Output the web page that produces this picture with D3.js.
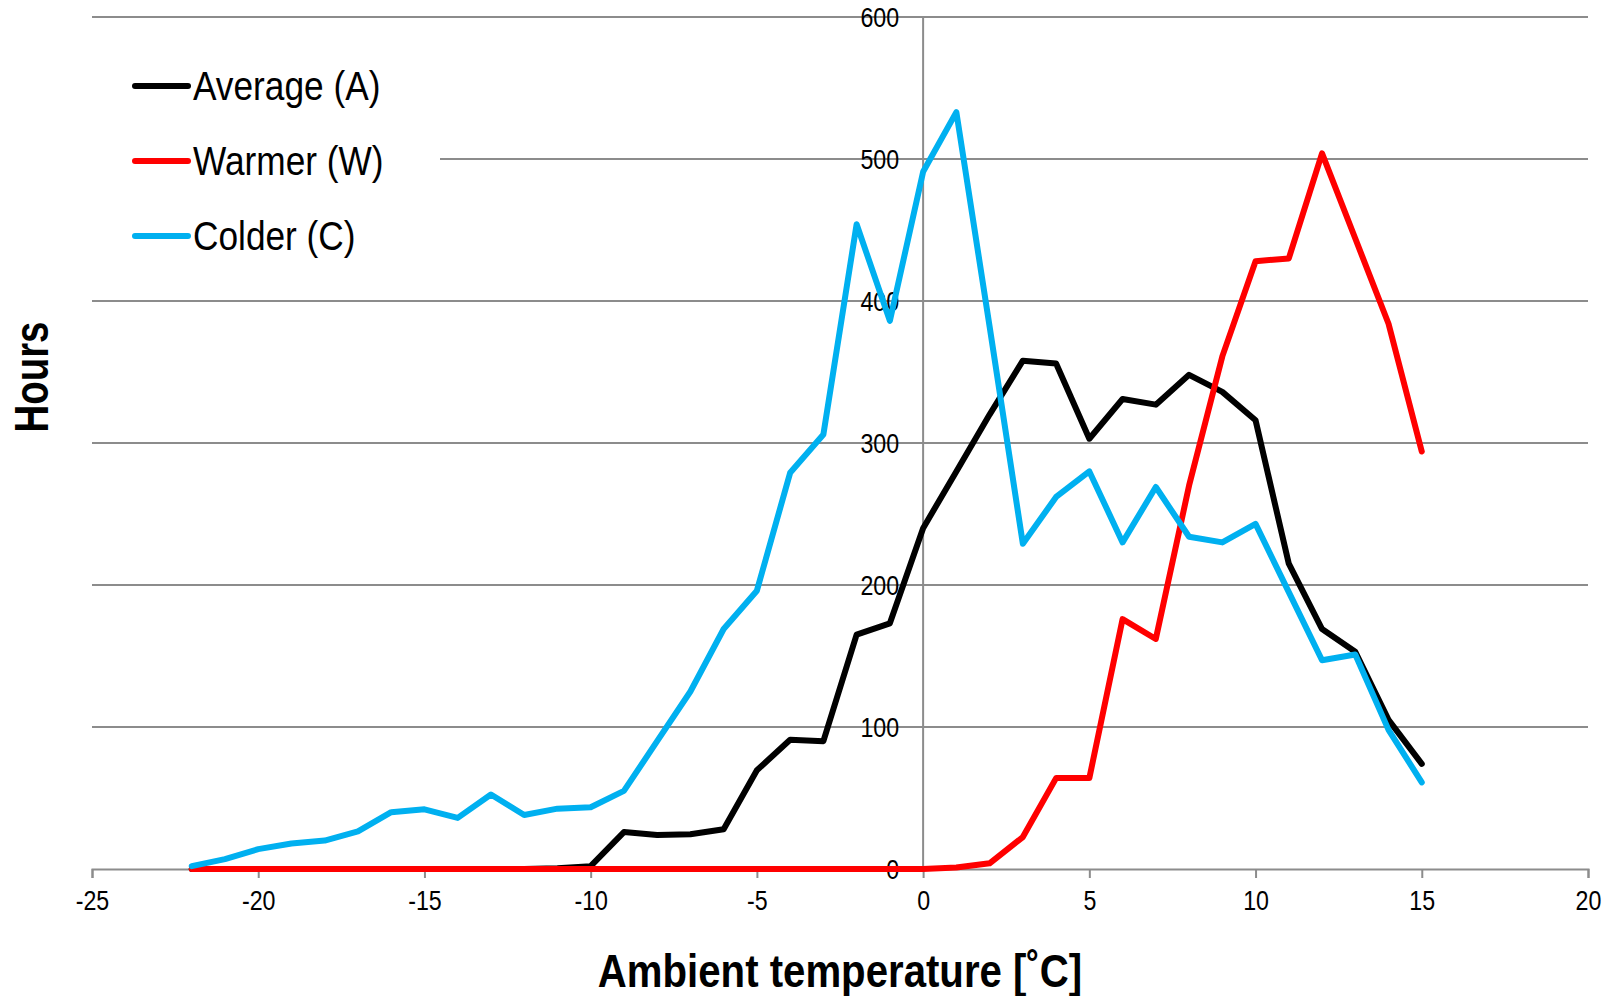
<!DOCTYPE html>
<html>
<head>
<meta charset="utf-8">
<script src="https://cdn.jsdelivr.net/npm/d3@7"></script>
<style>
  body { margin: 0; background: #fff; }
  svg text { font-family: "Liberation Sans Narrow", "Arial Narrow", "Liberation Sans", sans-serif; }
</style>
</head>
<body>
<div id="chart"></div>
<script>
// temperature bins (deg C) and hours per bin
var temps = d3.range(-22, 16);

var average = [0, 0, 0, 0, 0, 0, 0, 0, 0, 0, 0, 0.5, 2, 26, 24, 24.5, 28, 69.5, 91, 90,
  165, 173, 240, 280, 320, 358, 356, 303, 331, 327, 348, 336, 316, 215, 169, 153, 105, 74];
var warmer = [0, 0, 0, 0, 0, 0, 0, 0, 0, 0, 0, 0, 0, 0, 0, 0, 0, 0, 0, 0,
  0, 0, 0, 1, 4, 22.5, 64, 64, 176, 162, 270, 361, 428, 430, 504, 444, 384, 294];
var colder = [2, 7, 14, 18, 20, 26.5, 40, 42, 36, 52.5, 38, 42.5, 43.5, 55, 90, 125, 169, 196, 279, 306,
  454, 386, 491, 533, 382, 229, 262, 280, 230, 269, 234, 230, 243, 195, 147, 151, 98, 61];

var seriesNames = ["Average (A)", "Warmer (W)", "Colder (C)"];
var seriesColors = ["#000000", "#ff0000", "#00b0f0"];

var xTicks = [-25, -20, -15, -10, -5, 0, 5, 10, 15, 20];
var yTicks = [0, 100, 200, 300, 400, 500, 600];

var width = 1612, height = 996;
var margin = {top: 17, right: 24, bottom: 127, left: 92};
var narrow = 0.86; // squeeze text since no narrow font is installed

var svg = d3.select("#chart").append("svg").attr("width", width).attr("height", height);

var x = d3.scaleLinear().domain([-25, 20]).range([margin.left, width - margin.right]);
var y = d3.scaleLinear().domain([0, 600]).range([height - margin.bottom, margin.top]);

var grey = "#8c8c8c";

// horizontal gridlines
svg.append("g").selectAll("line").data(yTicks.filter(function(d){ return d > 0; }))
  .enter().append("line")
  .attr("x1", x(-25)).attr("x2", x(20))
  .attr("y1", function(d){ return y(d); }).attr("y2", function(d){ return y(d); })
  .attr("stroke", grey).attr("stroke-width", 2);

// vertical axis through zero
svg.append("line")
  .attr("x1", x(0)).attr("x2", x(0)).attr("y1", y(0)).attr("y2", y(600))
  .attr("stroke", grey).attr("stroke-width", 2);

// x axis at zero
var xAxis = d3.axisBottom(x).tickValues(xTicks).tickSize(9).tickPadding(13)
  .tickFormat(function(d){ return String(d); });
var gx = svg.append("g").attr("transform", "translate(0," + y(0) + ")").call(xAxis);
gx.select(".domain").attr("stroke", grey).attr("stroke-width", 2);
gx.selectAll(".tick line").attr("stroke", grey).attr("stroke-width", 2);
gx.selectAll(".tick text").attr("font-size", 27).attr("fill", "#000")
  .attr("transform", "scale(" + narrow + ",1)")
  .style("font-family", "'Liberation Sans Narrow', 'Arial Narrow', 'Liberation Sans', sans-serif");

// y labels sit just left of the zero line
svg.append("g").selectAll("text").data(yTicks)
  .enter().append("text")
  .attr("transform", function(d){ return "translate(" + (x(0) - 24) + "," + y(d) + ") scale(" + narrow + ",1)"; })
  .attr("dy", "0.36em")
  .attr("text-anchor", "end").attr("font-size", 27)
  .text(function(d){ return d; });

// legend box hides gridline behind it
svg.append("rect").attr("x", 92).attr("y", 45).attr("width", 348).attr("height", 220).attr("fill", "#fff");

// lines
var line = d3.line()
  .x(function(d, i){ return x(temps[i]); })
  .y(function(d){ return y(d); });

[average, warmer, colder].forEach(function(s, k){
  svg.append("path").datum(s)
    .attr("d", line)
    .attr("fill", "none")
    .attr("stroke", seriesColors[k])
    .attr("stroke-width", 6)
    .attr("stroke-linejoin", "round")
    .attr("stroke-linecap", "round");
});

// legend
var leg = svg.append("g").selectAll("g").data(seriesNames).enter().append("g")
  .attr("transform", function(d, i){ return "translate(0," + (86 + i * 75) + ")"; });
leg.append("line").attr("x1", 135).attr("x2", 188).attr("y1", 0).attr("y2", 0)
  .attr("stroke", function(d, i){ return seriesColors[i]; })
  .attr("stroke-width", 6).attr("stroke-linecap", "round");
leg.append("text").attr("transform", "translate(193,14) scale(" + narrow + ",1)")
  .attr("font-size", 41).text(function(d){ return d; });

// axis titles
svg.append("text").attr("transform", "translate(840,987) scale(0.855,1)").attr("text-anchor", "middle")
  .attr("font-size", 47).attr("font-weight", "bold").text("Ambient temperature [˚C]");
svg.append("text").attr("transform", "translate(48,377) rotate(-90) scale(0.8,1)").attr("text-anchor", "middle")
  .attr("font-size", 48).attr("font-weight", "bold").text("Hours");
</script>
</body>
</html>
